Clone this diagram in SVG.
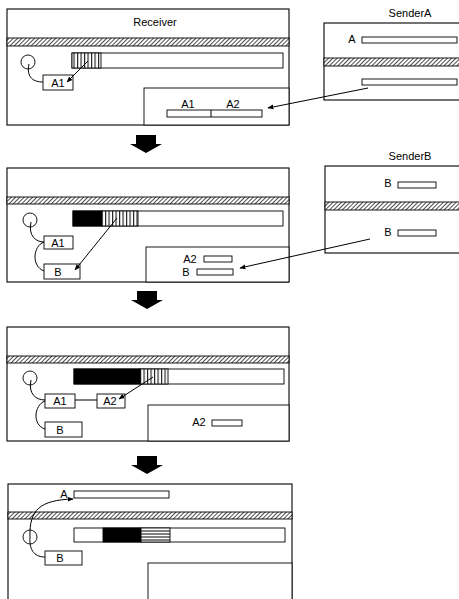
<svg xmlns="http://www.w3.org/2000/svg" width="459" height="599" viewBox="0 0 459 599">
<style>
  .box{fill:#fff;stroke:#000;stroke-width:1.1}
  .thin{fill:#fff;stroke:#000;stroke-width:0.9}
  .band{fill:url(#hatch);stroke:#000;stroke-width:0.9}
  .ln{fill:none;stroke:#000;stroke-width:1}
  .arr{fill:none;stroke:#000;stroke-width:1;marker-end:url(#ah)}
  text{font-family:"Liberation Sans",Arial,sans-serif;font-size:11px;fill:#000}
  .c{text-anchor:middle}
  .big{fill:#000}
</style>
<defs>
  <pattern id="hatch" patternUnits="userSpaceOnUse" width="3" height="3" patternTransform="rotate(45)">
    <rect width="3" height="3" fill="#fff"/>
    <line x1="0" y1="0" x2="0" y2="3" stroke="#000" stroke-width="1.4"/>
  </pattern>
  <pattern id="vstripe" patternUnits="userSpaceOnUse" width="3.5" height="10">
    <rect width="3.5" height="10" fill="#fff"/>
    <line x1="0.6" y1="0" x2="0.6" y2="10" stroke="#000" stroke-width="1"/>
  </pattern>
  <marker id="ah" viewBox="0 0 10 10" refX="9" refY="5" markerWidth="6" markerHeight="6" orient="auto" markerUnits="userSpaceOnUse">
    <path d="M0,1 L10,5 L0,9 z" fill="#000"/>
  </marker>
  <path id="down" d="M-10,0 H10 V9 H16 L0,18 L-16,9 H-10 z"/>
</defs>

<!-- Panel 1: Receiver -->
<g id="receiver1">
  <rect class="box" x="7" y="9" width="282" height="116"/>
  <text class="c" x="155" y="26">Receiver</text>
  <rect class="band" x="7" y="38" width="282" height="8"/>
  <circle class="thin" cx="28" cy="62" r="7"/>
  <rect class="thin" x="72" y="53" width="211" height="15"/>
  <rect x="72" y="53" width="29" height="15" fill="url(#vstripe)" stroke="#000" stroke-width="0.9"/>
  <g id="r1-a1"><rect class="thin" x="43" y="75" width="30" height="15"/><text class="c" x="58" y="87">A1</text></g>
  <g id="r1-inbox">
    <rect class="thin" x="144" y="88" width="145" height="37"/>
    <rect class="thin" x="167" y="110" width="95" height="7"/>
    <line class="ln" x1="211" y1="110" x2="211" y2="117"/>
    <text class="c" x="188" y="108">A1</text>
    <text class="c" x="233" y="108">A2</text>
  </g>
</g>

<!-- SenderA -->
<g id="senderA">
  <text class="c" x="410" y="17">SenderA</text>
  <rect class="box" x="324" y="23" width="140" height="77"/>
  <text class="c" x="352" y="43">A</text>
  <rect class="thin" x="362" y="37" width="95" height="6"/>
  <rect class="band" x="324" y="58" width="140" height="8"/>
  <rect class="thin" x="362" y="79" width="95" height="6"/>
</g>

<!-- Panel 2 -->
<g id="receiver2">
  <rect class="box" x="7" y="168" width="282" height="114"/>
  <rect class="band" x="7" y="197" width="282" height="7"/>
  <circle class="thin" cx="30" cy="220" r="7"/>
  <rect class="thin" x="73" y="211" width="210" height="15"/>
  <rect x="73" y="211" width="29" height="15" fill="#000" stroke="#000" stroke-width="0.9"/>
  <rect x="102" y="211" width="36" height="15" fill="url(#vstripe)" stroke="#000" stroke-width="0.9"/>
  <g id="r2-a1"><rect class="thin" x="44" y="236" width="29" height="13"/><text class="c" x="58" y="247">A1</text></g>
  <g id="r2-b"><rect class="thin" x="44" y="264" width="36" height="15"/><text class="c" x="58" y="276">B</text></g>
  <g id="r2-inbox">
    <rect class="thin" x="146" y="247" width="143" height="35"/>
    <text class="c" x="190" y="263">A2</text>
    <rect class="thin" x="204" y="256" width="28" height="6"/>
    <text class="c" x="186" y="276">B</text>
    <rect class="thin" x="197" y="269" width="36" height="6"/>
  </g>
</g>

<!-- SenderB -->
<g id="senderB">
  <text class="c" x="410" y="160">SenderB</text>
  <rect class="box" x="325" y="166" width="140" height="87"/>
  <text class="c" x="388" y="187">B</text>
  <rect class="thin" x="398" y="182" width="38" height="6"/>
  <rect class="band" x="325" y="202" width="140" height="8"/>
  <text class="c" x="388" y="236">B</text>
  <rect class="thin" x="398" y="230" width="38" height="6"/>
</g>

<!-- Panel 3 -->
<g id="receiver3">
  <rect class="box" x="7" y="327" width="282" height="114"/>
  <rect class="band" x="7" y="356" width="282" height="7"/>
  <circle class="thin" cx="30" cy="378" r="7"/>
  <rect class="thin" x="74" y="369" width="210" height="15"/>
  <rect x="74" y="369" width="66" height="15" fill="#000" stroke="#000" stroke-width="0.9"/>
  <rect x="140" y="369" width="28" height="15" fill="url(#vstripe)" stroke="#000" stroke-width="0.9"/>
  <g id="r3-a1"><rect class="thin" x="45" y="394" width="30" height="14"/><text class="c" x="60" y="405">A1</text></g>
  <g id="r3-a2"><rect class="thin" x="97" y="394" width="28" height="14"/><text class="c" x="110" y="405">A2</text></g>
  <g id="r3-b"><rect class="thin" x="45" y="422" width="37" height="15"/><text class="c" x="60" y="434">B</text></g>
  <g id="r3-inbox">
    <rect class="thin" x="148" y="405" width="141" height="36"/>
    <text class="c" x="199" y="426">A2</text>
    <rect class="thin" x="212" y="420" width="30" height="6"/>
  </g>
</g>

<!-- Panel 4 -->
<g id="receiver4">
  <rect class="box" x="8" y="484" width="284" height="125"/>
  <text class="c" x="64" y="498">A</text>
  <rect class="thin" x="74" y="491" width="95" height="7"/>
  <rect class="band" x="8" y="512" width="284" height="7"/>
  <circle class="thin" cx="30" cy="537" r="7"/>
  <rect class="thin" x="74" y="528" width="211" height="14"/>
  <rect x="103" y="528" width="38" height="14" fill="#000" stroke="#000" stroke-width="0.9"/>
  <rect class="thin" x="141" y="528" width="29" height="14"/>
  <line class="ln" x1="141" y1="531" x2="170" y2="531"/>
  <line class="ln" x1="141" y1="534" x2="170" y2="534"/>
  <line class="ln" x1="141" y1="537" x2="170" y2="537"/>
  <line class="ln" x1="141" y1="540" x2="170" y2="540"/>
  <g id="r4-b"><rect class="thin" x="45" y="551" width="37" height="14"/><text class="c" x="60" y="562">B</text></g>
  <rect class="thin" x="148" y="563" width="144" height="46"/>
</g>

<!-- Block arrows -->
<g id="steps">
  <use href="#down" x="146" y="135" class="big"/>
  <use href="#down" x="147" y="291" class="big"/>
  <use href="#down" x="147" y="456" class="big"/>
</g>

<!-- Connectors -->
<g id="connectors">
  <path class="ln" d="M29,64 C26,78 34,82 43,82"/>
  <path class="arr" d="M88,61 L67,82"/>
  <path class="arr" d="M368,88 L268,108"/>

  <path class="ln" d="M31,222 C28,236 36,242 44,242"/>
  <path class="ln" d="M44,242 C33,246 31,266 44,271"/>
  <path class="arr" d="M117,218 L75,270"/>
  <path class="arr" d="M370,239 L240,268"/>

  <path class="ln" d="M31,380 C28,394 36,400 45,400"/>
  <path class="ln" d="M45,401 C34,405 32,425 45,429"/>
  <line class="ln" x1="75" y1="400" x2="97" y2="400"/>
  <path class="arr" d="M153,377 L119,399"/>

  <path class="arr" d="M30,537 C29,510 40,500 73,499"/>
  <path class="ln" d="M30,537 C29,552 36,557 45,557"/>
</g>
</svg>
